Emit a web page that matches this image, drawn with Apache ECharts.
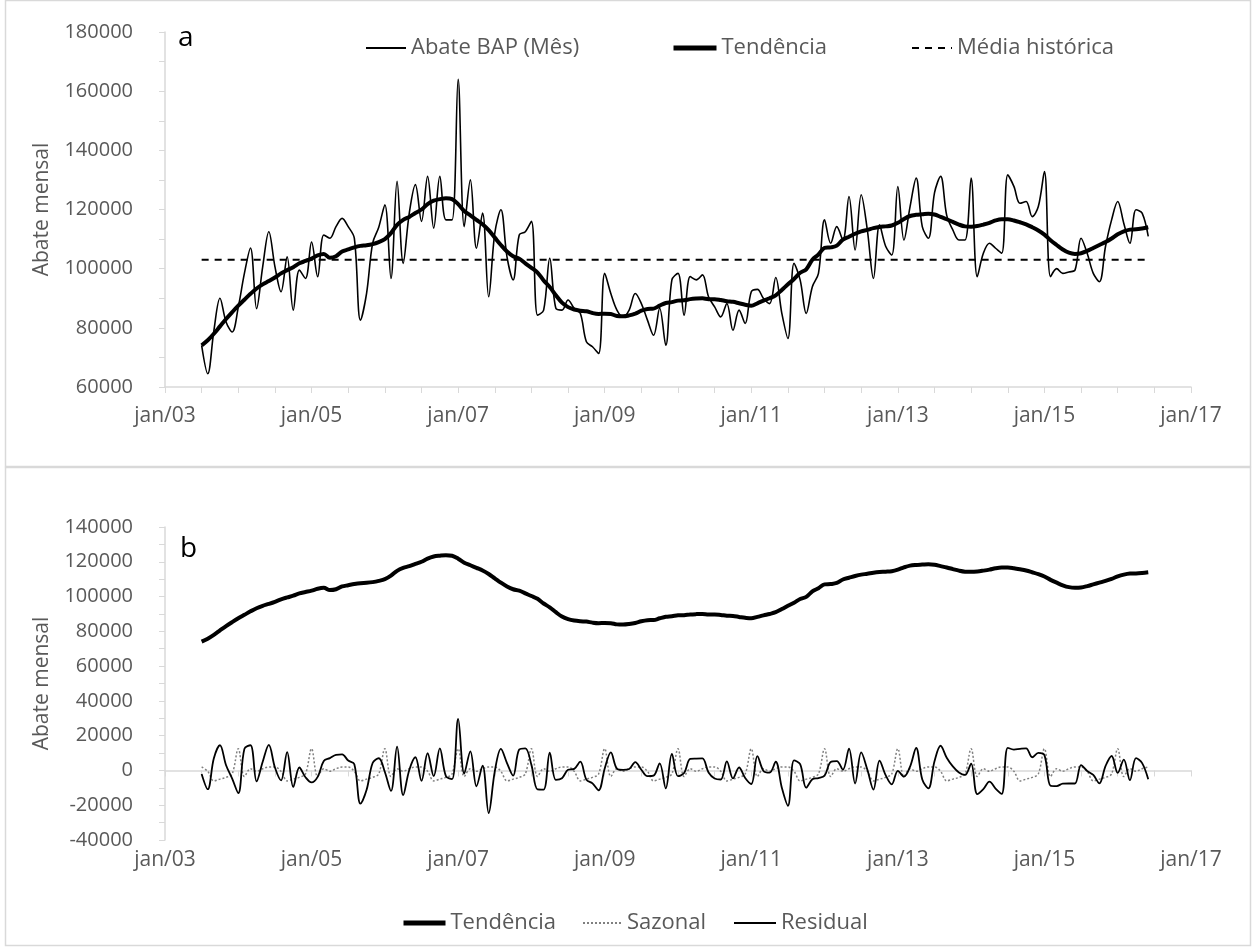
<!DOCTYPE html>
<html><head><meta charset="utf-8">
<script src="https://cdn.jsdelivr.net/npm/echarts@6/dist/echarts.min.js"></script>
<style>html,body{margin:0;padding:0;background:#fff}#c{width:1256px;height:947px}</style>
</head><body><div id="c"></div>
<script>
// x = months counted from jan/03; first observation is jul/03
const firstMonth = 6;
const raw = [
74100,64500,79000,90000,82000,78600,
87000,98400,107000,86500,100700,112500,100700,92200,104000,86000,99500,96700,
109000,97300,111400,110300,114200,117000,114200,110300,82600,91600,108600,114000,
121600,96700,129500,101800,118800,128400,116000,131200,113700,131200,116500,116500,
164000,114200,130000,106900,118800,90500,112000,119900,104000,96200,111400,112500,
116000,84300,86000,103500,86600,86000,89400,86600,84900,75300,73600,71300,
98400,91600,86000,83700,86000,91600,88200,82600,77500,86600,74100,96200,
98400,84300,97300,96200,97900,90500,87100,83700,88200,79200,86000,81500,
92200,93000,89900,88200,97000,84900,76400,101800,96200,84900,93900,98400,
116500,108600,114200,109700,124400,106300,125000,113100,96700,114800,107600,104600,
127800,109700,121000,130600,114200,110300,125600,131200,118000,113100,109700,109700,
130600,97300,105200,108600,106900,105200,131700,127800,122100,122700,117600,121000,
132800,97300,100000,98400,98900,99500,110300,105200,98400,95600,107500,116500,
122700,115300,108600,119900,118800,110900];
const trend = [
74100,75800,78000,80500,83000,85300,
87500,89500,91500,93300,94700,95800,97000,98400,99500,100500,101800,102600,
103400,104500,105000,103700,104200,105800,106500,107200,107700,107900,108300,109000,
110000,112000,114800,116500,117500,118800,120000,121800,123000,123500,123800,123500,
121800,119500,118000,116500,115000,113000,110500,108000,105800,104200,103400,101800,
100300,98700,96000,93800,91000,88500,87000,86200,85800,85600,85000,84700,
84800,84700,84000,83900,84200,84800,85800,86400,86500,87500,88400,88700,
89200,89300,89700,89900,90000,89700,89700,89400,89000,88800,88300,87800,
87500,88300,89200,90000,91000,92800,94700,96500,98600,99800,103000,104800,
107000,107200,107800,109800,110800,111800,112600,113100,113700,114100,114300,114600,
115500,116800,117800,118200,118400,118600,118300,117500,116700,115800,114900,114300,
114200,114400,114900,115500,116300,116700,116700,116300,115700,115000,114000,112900,
111500,109600,108000,106500,105400,105000,105200,106000,107000,108000,109000,110200,
111600,112600,113200,113300,113600,114000];
const seasonal = [
2000,-500,-6000,-5000,-4000,-2000,
12500,-3500,1000,-500,1000,2000,2000,-500,-6000,-5000,-4000,-2000,
12500,-3500,1000,-500,1000,2000,2000,-500,-6000,-5000,-4000,-2000,
12500,-3500,1000,-500,1000,2000,2000,-500,-6000,-5000,-4000,-2000,
12500,-3500,1000,-500,1000,2000,2000,-500,-6000,-5000,-4000,-2000,
12500,-3500,1000,-500,1000,2000,2000,-500,-6000,-5000,-4000,-2000,
12500,-3500,1000,-500,1000,2000,2000,-500,-6000,-5000,-4000,-2000,
12500,-3500,1000,-500,1000,2000,2000,-500,-6000,-5000,-4000,-2000,
12500,-3500,1000,-500,1000,2000,2000,-500,-6000,-5000,-4000,-2000,
12500,-3500,1000,-500,1000,2000,2000,-500,-6000,-5000,-4000,-2000,
12500,-3500,1000,-500,1000,2000,2000,-500,-6000,-5000,-4000,-2000,
12500,-3500,1000,-500,1000,2000,2000,-500,-6000,-5000,-4000,-2000,
12500,-3500,1000,-500,1000,2000,2000,-500,-6000,-5000,-4000,-2000,
12500,-3500,1000,-500,1000,2000];
const residual = [
-2000,-10800,7000,14500,3000,-4700,
-13000,12400,14500,-6300,5000,14700,1700,-5700,10500,-9500,1700,-3900,
-6900,-3700,5400,7100,9000,9200,5700,3600,-19100,-11300,4300,7000,
-900,-11800,13700,-14200,300,7600,-6000,9900,-3300,12700,-3300,-5000,
29700,-1800,11000,-9100,2800,-24500,-500,12400,4200,-3000,12000,12700,
3200,-10900,-11000,10200,-5400,-4500,400,900,5100,-5300,-7400,-11400,
1100,10400,1000,300,800,4800,400,-3300,-3000,4100,-10300,9500,
-3300,-1500,6600,6800,6900,-1200,-4600,-5200,5200,-4600,1700,-4300,
-7800,8200,-300,-1300,5000,-9900,-20300,5800,3600,-9900,-5100,-4400,
-3000,4900,5400,400,12600,-7500,10400,500,-11000,5700,-2700,-8000,
-200,-3600,2200,12900,-5200,-10300,5300,14200,7300,2300,-1200,-2600,
3900,-13600,-10700,-6400,-10400,-13500,13000,12000,12400,12700,7600,10100,
8800,-8800,-9000,-7600,-7500,-7500,3100,-300,-2600,-7400,2500,8300,
-1400,6200,-5600,7100,4200,-5100];
const historicalMean = 103000;
const xRange = [0, 168];          // jan/03 .. jan/17 in months
const yRangeA = [60000, 180000];
const yRangeB = [-40000, 140000];
const yStep = 20000;

function pairs(arr) { return arr.map((v, i) => [firstMonth + i, v]); }
const lastMonth = firstMonth + raw.length - 1;

const FONT = 'Open Sans';
const gray = '#595959';
const axisGray = '#d9d9d9';

function xAxis(gridIndex, margin) {
  return {
    type: 'value', gridIndex, min: xRange[0], max: xRange[1], interval: 6,
    axisLine: { show: true, lineStyle: { color: axisGray, width: 1.5 } },
    axisTick: { show: true, length: 6, lineStyle: { color: axisGray } },
    splitLine: { show: false },
    axisLabel: {
      color: gray, fontFamily: FONT, fontSize: 21, margin,
      formatter: v => (v % 24 === 0 ? 'jan/' + String(3 + v / 12).padStart(2, '0') : '')
    }
  };
}
function yAxis(gridIndex, range) {
  return {
    type: 'value', gridIndex, min: range[0], max: range[1], interval: yStep,
    name: 'Abate mensal', nameLocation: 'middle', nameRotate: 90, nameGap: 112,
    nameTextStyle: { color: gray, fontFamily: FONT, fontSize: 21 },
    axisLine: { show: true, lineStyle: { color: axisGray, width: 1.5 } },
    axisTick: { show: true, length: 6, lineStyle: { color: axisGray } },
    minorTick: { show: true, splitNumber: 2, length: 6, lineStyle: { color: axisGray } },
    splitLine: { show: false },
    axisLabel: { color: gray, fontFamily: FONT, fontSize: 20, margin: 32, formatter: v => String(v) }
  };
}
const legendText = { color: gray, fontFamily: FONT, fontSize: 22 };
function leg(name, left, top, w, lw) {
  const o = { data: [name], left, top, itemWidth: w || 42, itemHeight: 16, itemGap: 0,
    itemStyle: { opacity: 0 }, textStyle: legendText, selectedMode: false };
  if (lw) o.lineStyle = { width: lw };
  return o;
}

const chart = echarts.init(document.getElementById('c'), null, { renderer: 'canvas' });
chart.setOption({
  animation: false,
  backgroundColor: '#fff',
  grid: [
    { left: 165, top: 32, width: 1026, height: 355 },
    { left: 165, top: 527, width: 1026, height: 313 }
  ],
  xAxis: [xAxis(0, 19), xAxis(1, 10)],
  yAxis: [yAxis(0, yRangeA), yAxis(1, yRangeB)],
  legend: [
    leg('Abate BAP (Mês)', 360, 32, 40),
    leg('Tendência', 666, 32, 43, 5),
    leg('Média histórica', 906, 32, 40),
    leg('Tendência', 396, 907, 42, 5),
    leg('Sazonal', 577, 907, 39),
    leg('Residual', 728, 907, 42)
  ],
  series: [
    { name: 'Abate BAP (Mês)', type: 'line', xAxisIndex: 0, yAxisIndex: 0, data: pairs(raw),
      symbol: 'none', smooth: 0.35, lineStyle: { color: '#000', width: 1.6 }, itemStyle: { color: '#000' }, z: 2 },
    { name: 'Tendência', type: 'line', xAxisIndex: 0, yAxisIndex: 0, data: pairs(trend),
      symbol: 'none', smooth: 0.35, lineStyle: { color: '#000', width: 4 }, itemStyle: { color: '#000' }, z: 3 },
    { name: 'Média histórica', type: 'line', xAxisIndex: 0, yAxisIndex: 0,
      data: [[firstMonth, historicalMean], [lastMonth, historicalMean]],
      symbol: 'none', lineStyle: { color: '#000', width: 2, type: [7, 6] }, itemStyle: { color: '#000' }, z: 1 },
    { name: 'Tendência', type: 'line', xAxisIndex: 1, yAxisIndex: 1, data: pairs(trend),
      symbol: 'none', smooth: 0.35, lineStyle: { color: '#000', width: 4 }, itemStyle: { color: '#000' }, z: 3 },
    { name: 'Sazonal', type: 'line', xAxisIndex: 1, yAxisIndex: 1, data: pairs(seasonal),
      symbol: 'none', smooth: 0.35, lineStyle: { color: '#808080', width: 1.5, type: [2, 2] }, itemStyle: { color: '#808080' }, z: 1 },
    { name: 'Residual', type: 'line', xAxisIndex: 1, yAxisIndex: 1, data: pairs(residual),
      symbol: 'none', smooth: 0.35, lineStyle: { color: '#000', width: 1.8 }, itemStyle: { color: '#000' }, z: 2 }
  ],
  graphic: [
    { type: 'rect', shape: { x: 5.5, y: 0.5, width: 1245, height: 466 }, style: { fill: null, stroke: axisGray, lineWidth: 1.5 }, silent: true },
    { type: 'rect', shape: { x: 5.5, y: 467.5, width: 1245, height: 478 }, style: { fill: null, stroke: axisGray, lineWidth: 1.5 }, silent: true },
    { type: 'text', left: 178, top: 24, style: { text: 'a', fontFamily: FONT, fontSize: 28, fill: '#000' } },
    { type: 'text', left: 180, top: 535, style: { text: 'b', fontFamily: FONT, fontSize: 28, fill: '#000' } }
  ]
});
</script></body></html>
